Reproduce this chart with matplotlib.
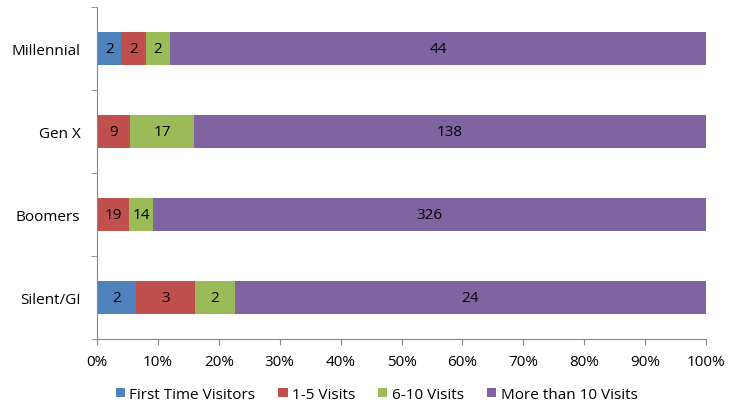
import matplotlib
matplotlib.use("Agg")
import matplotlib.pyplot as plt
import numpy as np

plt.rcParams['font.family'] = ['Open Sans', 'DejaVu Sans']

categories = ["Millennial", "Gen X", "Boomers", "Silent/GI"]
series_names = ["First Time Visitors", "1-5 Visits", "6-10 Visits", "More than 10 Visits"]
first_time = [2, 0, 0, 2]
visits_1_5 = [2, 9, 19, 3]
visits_6_10 = [2, 17, 14, 2]
more_than_10 = [44, 138, 326, 24]
colors = ["#4F81BD", "#C0504D", "#9BBB59", "#8064A2"]

data = np.array([first_time, visits_1_5, visits_6_10, more_than_10], dtype=float)
totals = data.sum(axis=0)
pct = data / totals * 100

fig = plt.figure(figsize=(7.4, 4.06), dpi=100)
ax = fig.add_axes([0.1311, 0.1626, 0.8230, 0.8177])

FS = 11
y = np.arange(len(categories))
left = np.zeros(len(categories))
for i, name in enumerate(series_names):
    ax.barh(y, pct[i], left=left, height=0.4, color=colors[i], label=name)
    for j in range(len(categories)):
        if data[i, j] > 0:
            ax.text(left[j] + pct[i, j] / 2, y[j], f"{int(data[i, j])}",
                    ha='center', va='center', fontsize=FS, color='black')
    left += pct[i]

ax.set_xlim(0, 100)
ax.set_ylim(len(categories) - 0.5, -0.5)
ax.set_xticks(np.arange(0, 101, 10))
ax.set_xticklabels([f"{v}%" for v in range(0, 101, 10)], fontsize=FS)
ax.set_yticks(y)
ax.set_yticklabels(categories, fontsize=FS)
ax.set_yticks(np.arange(-0.5, len(categories), 1), minor=True)
ax.tick_params(axis='y', which='major', length=0, pad=12)
ax.tick_params(axis='y', which='minor', length=4, color='#868686')
ax.tick_params(axis='x', length=4, color='#868686', pad=7)
for s in ['top', 'right']:
    ax.spines[s].set_visible(False)
for s in ['left', 'bottom']:
    ax.spines[s].set_color('#868686')

handles, labels = ax.get_legend_handles_labels()
fig.legend(handles, labels, loc='center', bbox_to_anchor=(0.509, 0.026), ncol=4, frameon=False,
           fontsize=FS, handlelength=0.6, handleheight=0.6, handletextpad=0.3,
           columnspacing=1.5)

fig.savefig("out.png", dpi=100)
